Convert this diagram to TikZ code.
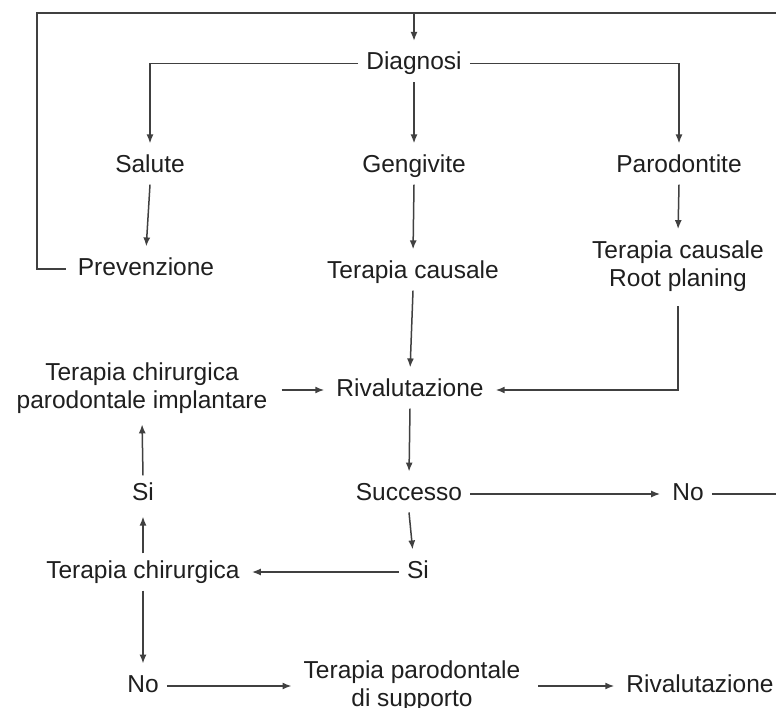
\documentclass[tikz,border=0pt]{standalone}
\usepackage{fontspec}
\setmainfont{Liberation Sans}
\usetikzlibrary{arrows.meta}
\newcommand\lnstrut{\rule[-5pt]{0pt}{22.5pt}}
\begin{document}
\begin{tikzpicture}[x=1pt,y=-1pt,
  lbl/.style={inner xsep=8pt, inner ysep=7pt, font=\fontsize{24.5}{28}\selectfont, text=black!88, align=center},
  ln/.style={line width=1.5pt, draw=black!75},
  arr/.style={ln, -{Latex[length=9pt,width=7pt]}, shorten >=4pt}]
\useasboundingbox (0,0) rectangle (776,708);
\fill[white] (0,0) rectangle (776,708);

% nodes
\node[lbl] (diag)   at (414,63.5)  {\lnstrut Diagnosi};
\node[lbl] (salute) at (150,166)   {\lnstrut Salute};
\node[lbl] (geng)   at (414,166)   {\lnstrut Gengivite};
\node[lbl] (parod)  at (679,166)   {\lnstrut Parodontite};
\node[lbl] (prev)   at (146,269)   {\lnstrut Prevenzione};
\node[lbl] (tc)     at (413,272)   {\lnstrut Terapia causale};
\node[lbl] (tcrp)   at (678,265.75){\lnstrut Terapia causale\\\lnstrut Root planing};
\node[lbl] (tcpi)   at (142,387.75){\lnstrut Terapia chirurgica\\\lnstrut parodontale implantare};
\node[lbl] (riv)    at (410,390)   {\lnstrut Rivalutazione};
\node[lbl] (succ)   at (409,494)   {\lnstrut Successo};
\node[lbl] (no1)    at (688,494)   {\lnstrut No};
\node[lbl] (si2)    at (143,494)   {\lnstrut Si};
\node[lbl] (si1)    at (418,572)   {\lnstrut Si};
\node[lbl] (tch)    at (143,572)   {\lnstrut Terapia chirurgica};
\node[lbl] (no2)    at (143,686)   {\lnstrut No};
\node[lbl] (tps)    at (412,686)   {\lnstrut Terapia parodontale\\\lnstrut di supporto};
\node[lbl] (riv2)   at (700,686)   {\lnstrut Rivalutazione};

% helper coordinates
\coordinate (cl) at (37,13);
\coordinate (cr) at (776,13);
\coordinate (ctop) at (414,13);

% loop lines
\draw[ln, shorten <=4pt] (prev.west) -- (cl |- prev.west) -- (cl) -- (cr);
\draw[arr] (ctop) -- (diag.north);
\draw[ln] (no1.east) -- (no1.east -| cr);

% diagnosis branches
\draw[arr] (diag.west) -| (salute.north);
\draw[arr] (diag.east) -| (parod.north);
\draw[arr] (diag.south) -- (geng.north);

\draw[arr] (salute.south) -- (prev.north);
\draw[arr] (geng.south) -- (tc.north);
\draw[arr] (parod.south) -- (tcrp.north);

\draw[arr] (tc.south) -- (riv.north);
\draw[arr, shorten <=8pt] (tcrp.south) |- (riv.east);
\draw[arr, shorten <=6pt] (tcpi.east |- riv.west) -- (riv.west);

\draw[arr] (riv.south) -- (succ.north);
\draw[arr] (succ.east) -- (no1.west);
\draw[arr] (succ.south) -- ([xshift=-5pt]si1.north);
\draw[arr] (si1.west) -- (tch.east);
\draw[arr] (tch.north) -- (si2.south);
\draw[arr] (si2.north) -- (tcpi.south);
\draw[arr] (tch.south) -- (no2.north);
\draw[arr] (no2.east) -- (tps.west);
\draw[arr, shorten <=10pt] (tps.east) -- (riv2.west);
\end{tikzpicture}
\end{document}
